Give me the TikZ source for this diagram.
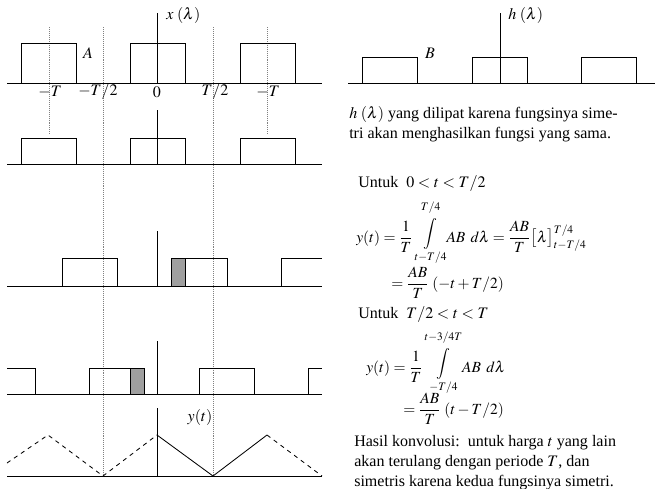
\documentclass[tikz,border=0pt]{standalone}
\usepackage{mathptmx}
\usepackage{graphicx}
\usepackage{fontspec}
\setmainfont{Liberation Serif}
\usetikzlibrary{positioning}
% integral raised a little, with its limits kept clear of the sign
\newcommand{\liftint}[2]{\mathop{\raisebox{3pt}{$\displaystyle\int$}}\limits_{\raisebox{0.5pt}{$\scriptstyle #1$}}^{\raisebox{3.5pt}{$\scriptstyle #2$}}}

\begin{document}
\begin{tikzpicture}[x=0.025cm, y=-0.025cm, font=\fontsize{11.4}{14.2}\selectfont,
    axis/.style={line width=0.6pt},
    pulse/.style={draw, line width=0.6pt},
    shade/.style={draw, line width=0.6pt, fill=gray!75},
    guide/.style={gray, densely dotted, line width=0.4pt},
    txt/.style={inner sep=0pt, anchor=west},
    eq/.style={txt, font=\fontsize{11}{13}\selectfont}]
    \useasboundingbox (0,0) rectangle (655,488);

    % guides
    \foreach \g in {49,267} \draw[guide] (\g,27) -- (\g,135);
    \foreach \g in {103,213} \draw[guide] (\g,27) -- (\g,476);

    % x(lambda)
    \draw[axis] (7,83) -- (322,83);
    \foreach \a in {21,130,240} \draw[pulse] (\a,83) rectangle ++(55,-40);
    \draw[axis] (157,13) -- (157,83);
    \node[txt] (xlab) at (166,15) {$x\;(\lambda)$};
    \node (ampA) at (88,53) {$A$};
    \node (tkA) at (50,92) {$-T$};
    \node (tkB) at (98,92) {$-T/2$};
    \node (tkC) at (157,92) {$0$};
    \node (tkD) at (215,92) {$T/2$};
    \node (tkE) at (268,92) {$-T$};

    % folded h
    \draw[axis] (7,164) -- (322,164);
    \foreach \a in {21,130,240} \draw[pulse] (\a,164) rectangle ++(55,-26);
    \draw[axis] (157,110) -- (157,164);

    % shift, 0 < t < T/2
    \draw[axis] (7,286) -- (322,286);
    \draw[pulse] (62,286) rectangle (117,258);
    \draw[pulse] (171,286) rectangle (227,258);
    \draw[shade] (171,286) rectangle (185,258);
    \draw[axis] (281,286) -- (281,258) -- (322,258);
    \draw[axis] (157,231) -- (157,286);

    % shift, T/2 < t < T
    \draw[axis] (7,394) -- (322,394);
    \draw[axis] (7,368) -- (35,368) -- (35,394);
    \draw[pulse] (89,394) rectangle (144,368);
    \draw[shade] (130,394) rectangle (144,368);
    \draw[pulse] (199,394) rectangle (254,368);
    \draw[axis] (308,394) -- (308,368) -- (322,368);
    \draw[axis] (157,341) -- (157,394);

    % y(t)
    \draw[axis] (7,476) -- (322,476);
    \draw[axis] (157,408) -- (157,476);
    \node (ylab) at (200,417) {$y(t)$};
    \draw[axis, dashed] (7,463) -- (48,435) -- (103,476) -- (157,435);
    \draw[axis] (157,435) -- (213,476) -- (267,435);
    \draw[axis, dashed] (267,435) -- (322,476);

    % h(lambda)
    \draw[axis] (348,83) -- (655,83);
    \foreach \a in {362,472,581} \draw[pulse] (\a,83) rectangle ++(55,-26);
    \draw[axis] (500,13) -- (500,83);
    \node[txt] (hlab) at (508,15) {$h\;(\lambda)$};
    \node (ampB) at (430,53) {$B$};
    \node[txt, anchor=north west, align=left] (fold) at (349,106)
        {$h\;(\lambda)$ yang dilipat karena fungsinya sime-\\tri akan menghasilkan fungsi yang sama.};

    % equations
    \node[txt] (caseA) at (358,184) {Untuk\ \ $0<t<T/2$};
    \node[eq] (eqA) at (356,233) {$\displaystyle y(t)=\frac{1}{T}\liftint{t-T/4}{T/4}\!AB\;\,d\lambda=\frac{AB}{T}\bigl[\lambda\bigr]_{t-T/4}^{T/4}$};
    \node[eq] (eqB) at (391,283) {$\displaystyle =\frac{AB}{T}\;(-t+T/2)$};
    \node[txt] (caseB) at (358,315) {Untuk\ \ $T/2<t<T$};
    \node[eq] (eqC) at (366,363) {$\displaystyle y(t)=\frac{1}{T}\liftint{-T/4}{t-3/4T}\!AB\;\,d\lambda$};
    \node[eq] (eqD) at (403,409) {$\displaystyle =\frac{AB}{T}\;(t-T/2)$};
    \node[txt, anchor=north west, align=left] (result) at (354,435)
        {Hasil konvolusi:\ \ untuk harga $t$ yang lain\\akan terulang dengan periode $T$, dan\\simetris karena kedua fungsinya simetri.};
\end{tikzpicture}
\end{document}
